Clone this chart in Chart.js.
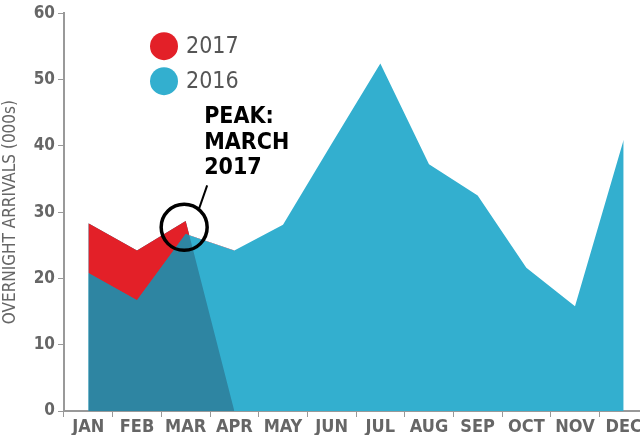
<!DOCTYPE html>
<html lang="en">
<head>
    <meta charset="UTF-8">
    <title>Overnight arrivals</title>
    <script src="https://cdn.jsdelivr.net/npm/chart.js"></script>
    <style>
        html, body { margin: 0; padding: 0; background: #fff; overflow: hidden; }
        .chart-area { position: relative; width: 660px; height: 435px; }
    </style>
</head>
<body>
    <div class="chart-area">
        <canvas id="grafico"></canvas>
    </div>

<script>
    // dados (milhares de chegadas)
    const meses = ['JAN', 'FEB', 'MAR', 'APR', 'MAY', 'JUN', 'JUL', 'AUG', 'SEP', 'OCT', 'NOV', 'DEC'];
    const valores2016 = [20.8, 16.7, 26.7, 24.2, 28.1, 40.3, 52.4, 37.2, 32.5, 21.6, 15.8, 40.9];
    const valores2017 = [28.3, 24.2, 28.65, 0, null, null, null, null, null, null, null, null];
    const ticksY = [0, 10, 20, 30, 40, 50, 60];
    const textoPico = ['PEAK:', 'MARCH', '2017'];

    const vermelho = '#E32028';
    const ciano = '#33AFCF';
    const azulEscuro = '#2E85A2';
    const cinza = '#666666';
    const fonte = '"Liberation Sans Narrow", "DejaVu Sans Condensed", Roboto, sans-serif';

    // legenda e anotação desenhadas no canvas
    const pluginExtras = {
        id: 'extras',
        afterDatasetsDraw(chart) {
            const ctx = chart.ctx;
            const area = chart.chartArea;
            const x = chart.scales.x;
            const y = chart.scales.y;

            // legenda
            const itens = [
                { label: chart.data.datasets[0].label, cor: vermelho },
                { label: chart.data.datasets[2].label, cor: ciano }
            ];
            ctx.save();
            ctx.font = '23px ' + fonte;
            ctx.textBaseline = 'middle';
            itens.forEach((item, i) => {
                const cy = area.top + 33 + i * 35;
                const cx = area.left + 100;
                ctx.fillStyle = item.cor;
                ctx.beginPath();
                ctx.arc(cx, cy, 14, 0, Math.PI * 2);
                ctx.fill();
                ctx.fillStyle = '#555';
                ctx.fillText(item.label, cx + 22, cy + 1);
            });
            ctx.restore();

            // círculo do pico
            const px = x.getPixelForValue(2) - 1.5;
            const py = y.getPixelForValue(27.7);
            ctx.save();
            ctx.strokeStyle = '#000';
            ctx.lineWidth = 3.5;
            ctx.beginPath();
            ctx.arc(px, py, 23, 0, Math.PI * 2);
            ctx.stroke();
            ctx.lineWidth = 2;
            ctx.beginPath();
            ctx.moveTo(px + 15, py - 19);
            ctx.lineTo(px + 23, py - 42);
            ctx.stroke();
            ctx.fillStyle = '#000';
            ctx.font = 'bold 23px ' + fonte;
            ctx.textBaseline = 'alphabetic';
            textoPico.forEach((linha, i) => {
                ctx.fillText(linha, px + 20, py - 104 + i * 25.5);
            });
            ctx.restore();
        }
    };

    const ctx = document.getElementById('grafico').getContext('2d');

    new Chart(ctx, {
        type: 'line',
        data: {
            labels: meses,
            datasets: [{
                label: '2017',
                data: valores2017,
                fill: { target: 2, above: vermelho, below: 'rgba(0,0,0,0)' },
                borderWidth: 0,
                pointRadius: 0,
                tension: 0
            }, {
                label: 'overlap',
                data: valores2017,
                fill: 'origin',
                backgroundColor: azulEscuro,
                borderWidth: 0,
                pointRadius: 0,
                tension: 0
            }, {
                label: '2016',
                data: valores2016,
                fill: 'origin',
                backgroundColor: ciano,
                borderWidth: 0,
                pointRadius: 0,
                tension: 0
            }]
        },
        options: {
            responsive: true,
            maintainAspectRatio: false,
            animation: false,
            layout: { padding: { top: 10, right: 12, left: 0, bottom: 0 } },
            plugins: {
                legend: { display: false },
                tooltip: { enabled: false },
                title: { display: false }
            },
            scales: {
                x: {
                    offset: true,
                    grid: { offset: true, drawOnChartArea: false, drawTicks: true, tickLength: 6, color: '#999' },
                    border: { color: '#999', width: 2 },
                    ticks: {
                        color: cinza,
                        font: { family: fonte, size: 18, weight: 'bold' },
                        padding: 0,
                        maxRotation: 0,
                        autoSkip: false
                    },
                    afterFit(scale) { scale.height = 24; }
                },
                y: {
                    min: 0,
                    max: 60,
                    afterBuildTicks(scale) { scale.ticks = ticksY.map(v => ({ value: v })); },
                    grid: { drawOnChartArea: false, drawTicks: true, tickLength: 6, color: '#999' },
                    border: { color: '#999', width: 2 },
                    ticks: {
                        color: cinza,
                        font: { family: fonte, size: 17, weight: 'bold' },
                        padding: 3
                    },
                    title: {
                        display: true,
                        text: 'OVERNIGHT ARRIVALS (000s)',
                        color: cinza,
                        font: { family: fonte, size: 17 },
                        padding: { top: 0, bottom: 4 }
                    },
                    afterFit(scale) { scale.width = 64; }
                }
            }
        },
        plugins: [pluginExtras]
    });
</script>
</body>
</html>
